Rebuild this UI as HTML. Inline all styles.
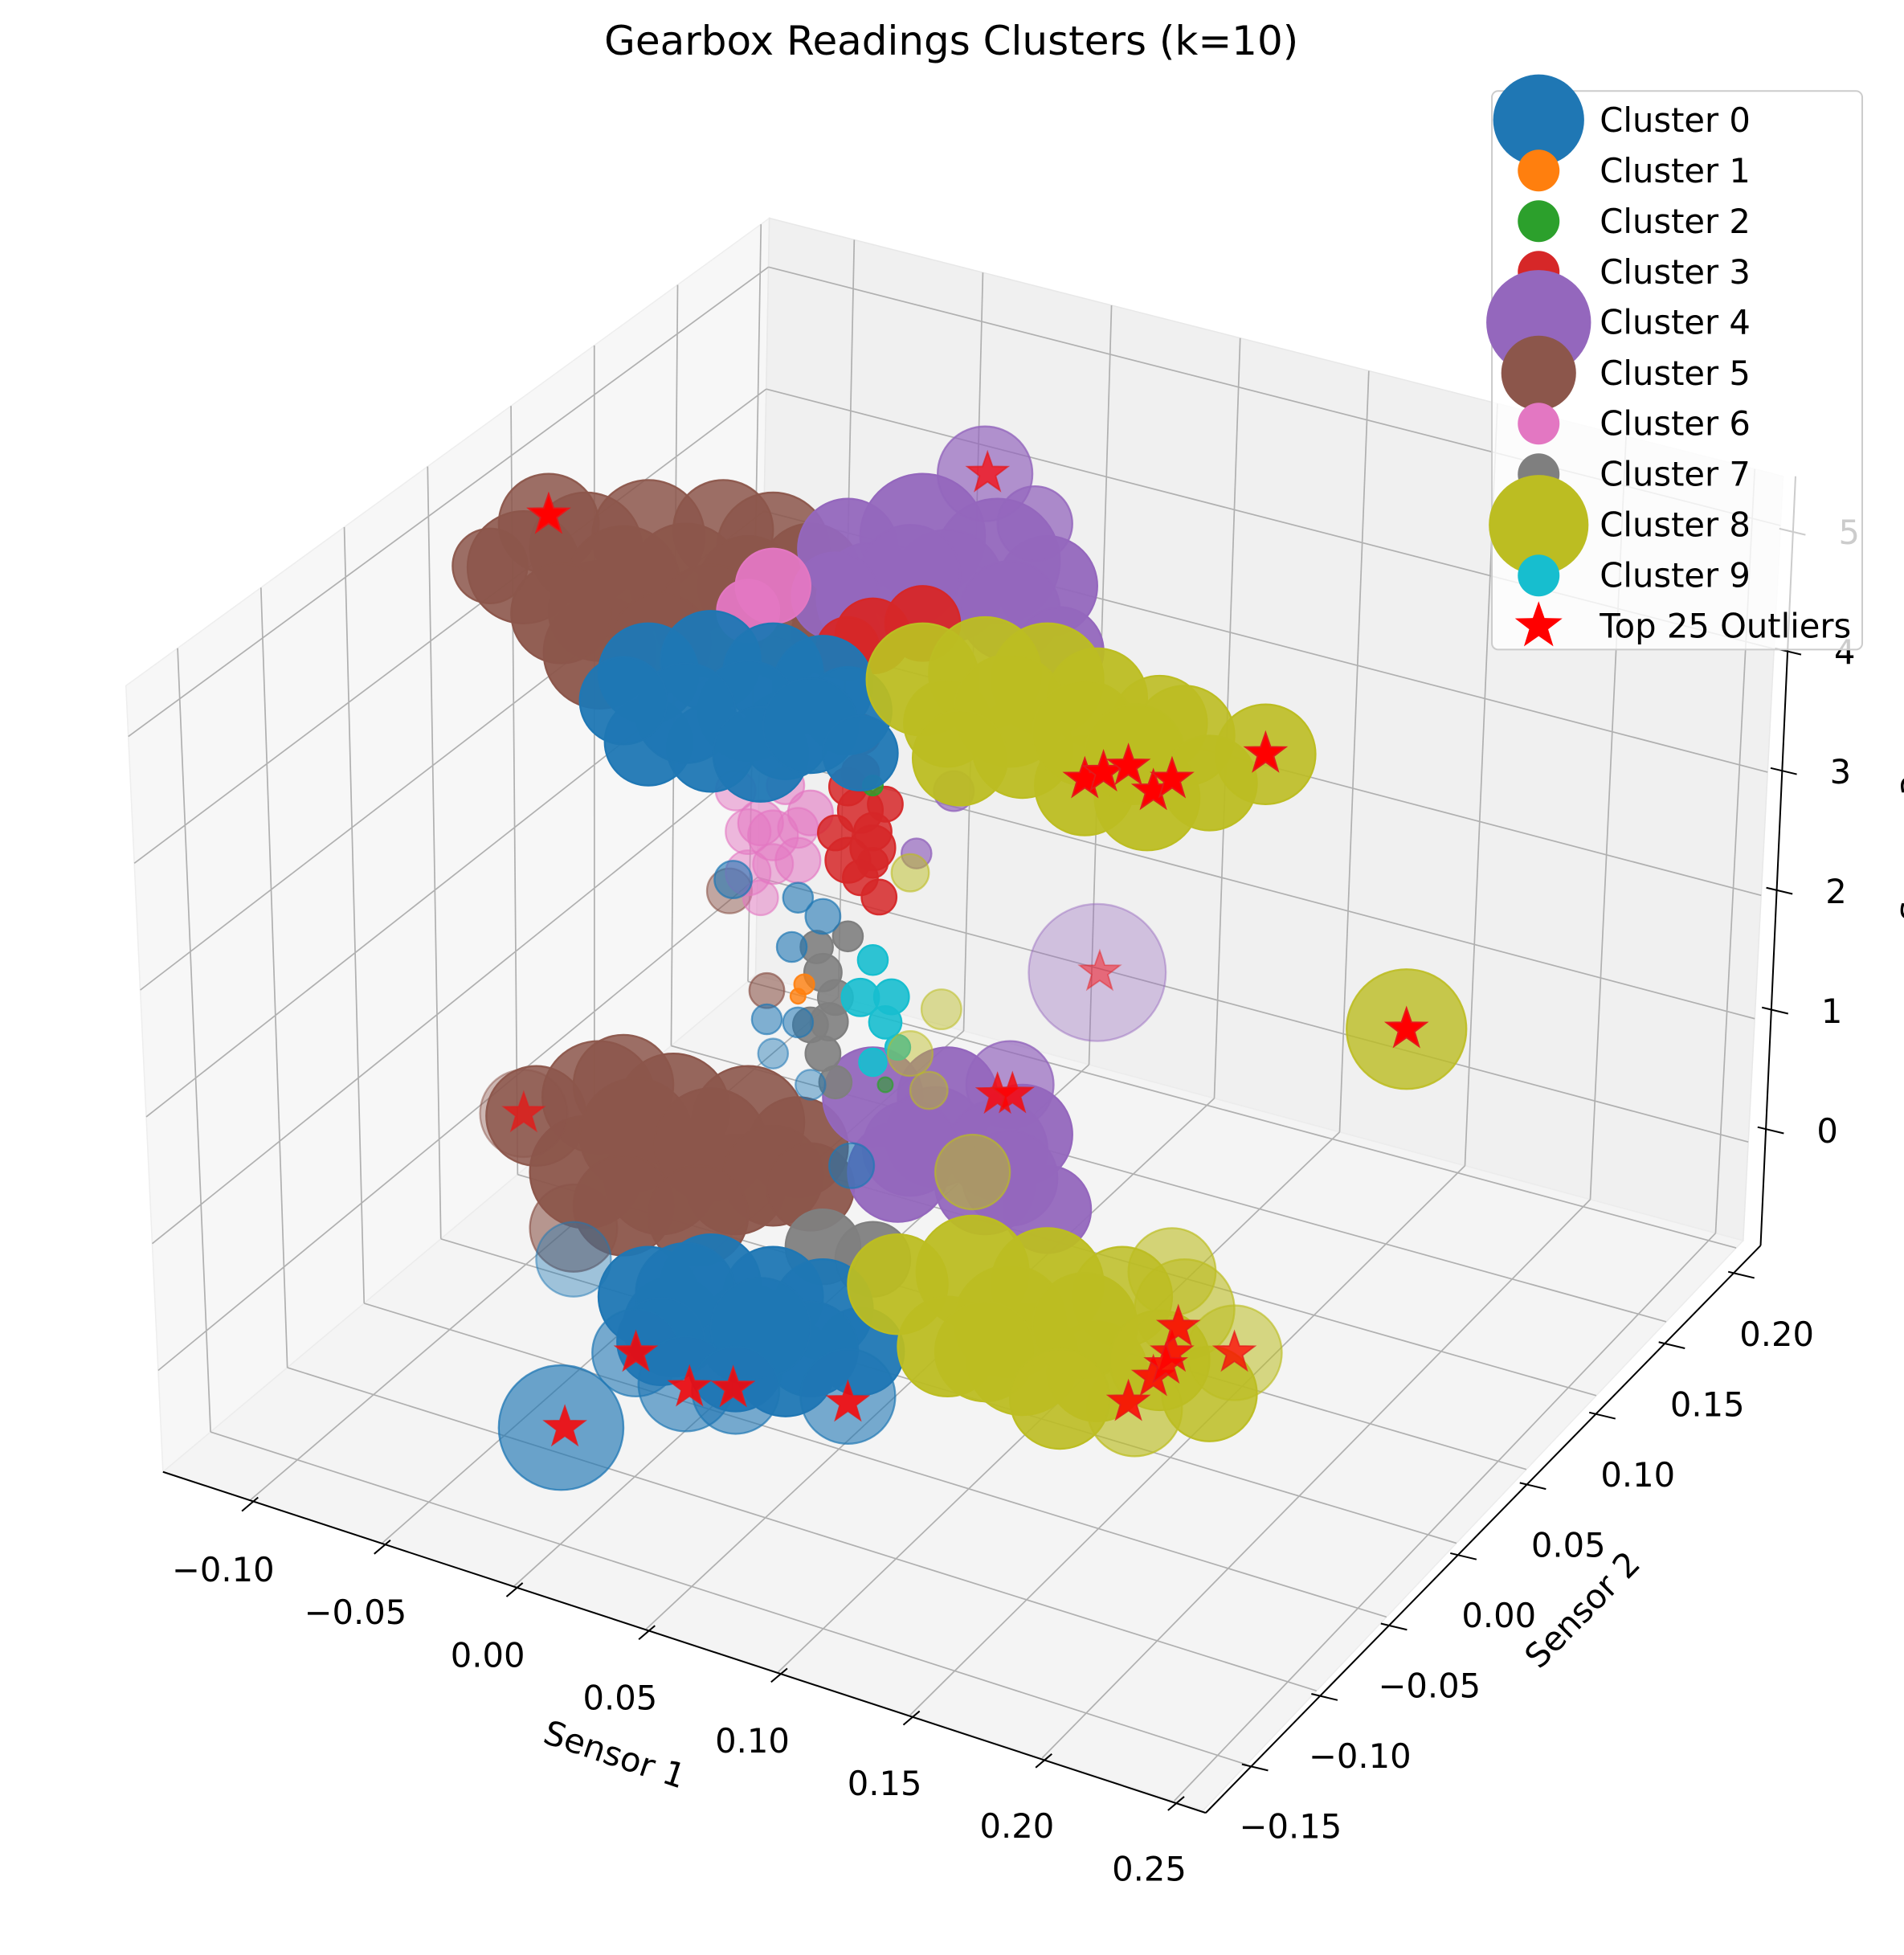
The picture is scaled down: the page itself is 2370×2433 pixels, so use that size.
<!DOCTYPE html>
<html><head><meta charset="utf-8"><title>Gearbox Readings Clusters</title>
<style>html,body{margin:0;padding:0;background:#fff}svg{display:block}text{font-family:"DejaVu Sans","Liberation Sans",sans-serif}</style>
</head><body>
<svg id="chart" xmlns="http://www.w3.org/2000/svg" width="2370" height="2433" viewBox="0 0 1527 1568" preserveAspectRatio="none">
<rect x="0" y="0" width="1527" height="1568" fill="#ffffff"/>
<g id="panes"></g>
<g id="grid"></g>
<g id="points"></g>
<g id="stars"></g>
<g id="axes"></g>
<text x="763" y="33" font-size="32.2" text-anchor="middle" dominant-baseline="central" fill="#000">Gearbox Readings Clusters (k=10)</text>
<text x="493" y="1407" font-size="26.85" text-anchor="middle" dominant-baseline="central" transform="rotate(18.5 493 1407)">Sensor 1</text>
<text x="1269" y="1291" font-size="26.85" text-anchor="middle" dominant-baseline="central" transform="rotate(-45.6 1269 1291)">Sensor 2</text>
<text x="1535" y="680" font-size="26.85" text-anchor="middle" dominant-baseline="central" transform="rotate(-90 1535 680)">Sensor 3</text>
<g id="legend"></g>
</svg>
<script>
// ---- data ----
const clusterNames = ["Cluster 0","Cluster 1","Cluster 2","Cluster 3","Cluster 4","Cluster 5","Cluster 6","Cluster 7","Cluster 8","Cluster 9"];
const clusterColors = ["#1f77b4","#ff7f0e","#2ca02c","#d62728","#9467bd","#8c564b","#e377c2","#7f7f7f","#bcbd22","#17becf"];
const drawOrder = [5,4,6,3,7,9,1,2,0,8];
// each cluster: [sensor1, sensor3, size, alpha]
const cluster0 = [[.055,5.93,40,.95],[.08,6.18,40,.95],[.105,6.23,40,.95],[.125,6.25,40,.95],[.055,5.38,35,.95],[.08,5.48,35,.95],[.11,5.76,35,.95],[.135,6.11,35,.95],[.095,5.87,40,.95],
 [.07,5.7,40,.95],[.1,5.55,38,.95],[.12,5.9,38,.95],[.14,5.8,30,.95],[.045,5.65,35,.95],
 [.089,4.48,15,.6],[.115,4.49,12,.6],[.1025,3.44,12,.55],[.115,3.49,12,.55],[.125,4.40,14,.6],[.105,3.18,12,.45],[.12,3.02,12,.45],[.1125,4.08,12,.6],[.1365,2.47,18,.6],
 [.025,1.05,30,.4],[.055,.93,40,.95],[.08,1.18,40,.95],[.105,1.23,40,.95],[.125,1.25,40,.95],[.065,.75,40,.95],[.11,.70,40,.95],[.14,1.0,35,.95],[.095,.87,40,.95],
 [.07,1.05,40,.95],[.09,.6,38,.95],[.12,.9,38,.95],[.06,.6,35,.95],[.1,.95,40,.95],
 [.05,.45,35,.6],[.07,.32,38,.6],[.09,.39,35,.6],[.135,.61,38,.6],[.02,-.33,50,.65]];
const cluster1 = [[.1175,3.81,8,.8],[.115,3.70,6,.8]];
const cluster2 = [[.145,5.57,8,.8],[.15,3.20,6,.6]];
const cluster3 = [[.145,6.77,30,.95],[.165,6.99,30,.95],[.135,6.61,25,.95],[.14,5.34,18,.85],[.135,4.91,18,.85],[.145,5.07,18,.85],[.14,5.64,15,.85],[.1475,4.69,14,.85],[.14,5.95,16,.85],
 [.135,5.5,15,.85],[.145,5.2,15,.85],[.14,4.8,14,.85],[.15,5.45,14,.85],[.13,5.1,14,.85],[.145,4.95,12,.85]];
const cluster4 = [[.135,7.41,40,.95],[.165,7.69,50,.95],[.195,7.67,50,.95],[.215,7.59,40,.95],[.145,7.07,45,.95],[.175,7.35,45,.95],[.19,8.34,38,.7],[.21,8.06,30,.75],
 [.16,7.35,40,.95],[.2,7.3,40,.95],[.22,7.1,35,.95],[.13,7.0,35,.95],
 [.1625,5.13,12,.7],[.1775,5.72,16,.7],[.235,4.61,55,.35],
 [.145,3.07,40,.95],[.175,3.25,40,.95],[.20,3.50,35,.7],[.205,3.13,40,.95],[.155,2.53,40,.95],[.19,2.64,40,.95],[.215,2.59,35,.95],
 [.17,2.9,40,.95],[.195,2.95,40,.95],[.16,2.75,38,.95],[.2,2.75,38,.95]];
const cluster5 = [[.005,6.48,45,.9],[.03,6.78,45,.85],[.055,7.03,45,.85],[.085,7.26,40,.85],[.105,7.23,45,.85],[.12,7.12,40,.95],[.035,6.31,40,.95],[.015,6.89,40,.85],[.07,6.77,45,.95],[.095,6.87,40,.95],[.0355,5.98,45,.95],[-.0085,6.41,30,.85],
 [.045,6.6,45,.95],[.08,6.5,45,.95],[.11,6.6,40,.95],[.02,6.2,40,.95],[.06,6.2,40,.95],[.13,6.7,35,.95],
 [.0875,4.38,18,.5],[.1025,3.67,14,.6],
 [.01,2.11,40,.85],[.035,2.41,45,.85],[.065,2.49,45,.9],[.095,2.57,45,.9],[.115,2.49,40,.95],[.03,1.78,45,.95],[.06,1.91,45,.95],[.09,2.04,40,.95],[.025,1.30,35,.6],[.045,2.57,40,.85],[.005,2.10,35,.4],
 [.05,2.2,45,.95],[.08,2.3,45,.95],[.105,2.2,40,.95],[.045,1.6,40,.95],[.075,1.7,40,.95],[.12,2.2,35,.95]];
const cluster6 = [[.105,6.93,30,.95],[.095,6.67,25,.95],[.105,4.93,20,.55],[.095,4.57,18,.5],[.115,4.79,18,.55],[.10,5.00,18,.55],[.11,5.36,15,.55],[.12,5.2,18,.6],
 [.095,4.9,18,.5],[.105,4.7,16,.5],[.09,5.2,16,.5],[.115,5.05,16,.5],[.1,4.4,14,.5]];
const cluster7 = [[.125,3.95,15,.9],[.1275,3.57,15,.9],[.1225,4.14,13,.9],[.13,3.78,14,.9],[.125,3.3,14,.9],[.13,3.1,13,.9],[.12,3.5,14,.9],[.135,4.3,12,.9],[.125,1.75,30,.95],[.145,1.77,30,.95]];
const cluster9 = [[.14,3.84,15,.9],[.1525,3.92,14,.9],[.145,4.17,12,.9],[.155,3.53,10,.9],[.15,3.7,13,.9],[.145,3.35,11,.9]];
const cluster8 = [[.165,6.54,45,.95],[.19,6.74,45,.95],[.215,6.84,45,.95],[.235,6.81,40,.95],[.26,6.76,38,.9],[.27,6.72,40,.9],[.205,6.23,40,.95],[.23,6.08,40,.95],[.255,6.13,42,.95],[.3025,6.765,40,.9],[.175,6.25,35,.95],
 [.2,6.5,45,.95],[.23,6.5,42,.95],[.25,6.45,40,.95],[.18,6.0,38,.95],[.28,6.4,38,.95],
 [.359,4.90,48,.8],[.16,4.96,15,.5],[.1725,3.94,16,.45],[.16,3.51,18,.45],[.1675,3.26,15,.45],
 [.155,1.63,40,.95],[.185,1.91,45,.95],[.215,1.99,45,.95],[.245,2.07,40,.85],[.27,2.12,40,.6],[.175,1.25,40,.95],[.205,1.33,45,.95],[.235,1.41,40,.95],[.25,1.20,38,.65],[.29,1.89,38,.55],[.265,2.39,35,.6],[.185,2.71,30,.55],
 [.2,1.6,45,.95],[.23,1.75,42,.95],[.26,1.65,40,.9],[.19,1.3,40,.95],[.22,1.1,40,.9],[.28,1.5,38,.85]];
const clusters = [cluster0,cluster1,cluster2,cluster3,cluster4,cluster5,cluster6,cluster7,cluster8,cluster9];
const outlierS1 = [.015,.191,.23,.2375,.2475,.2575,.265,.3025,.236,.359,.195,.201,.005,.05,.0715,.089,.135,.0215,.2475,.2575,.265,.2675,.29,.2625];
const outlierS3 = [6.96,8.35,6.13,6.23,6.34,6.20,6.34,6.77,4.62,4.90,3.39,3.43,2.10,.45,.30,.40,.56,-.32,1.24,1.50,1.74,1.96,1.89,1.63];
const outlierAlpha = [1,.7,1,1,1,1,1,1,.45,1,.8,.8,.6,.85,.85,.85,.85,.85,.85,.85,.85,.85,.75,.85];
const xTicks = [-0.10,-0.05,0.00,0.05,0.10,0.15,0.20,0.25];
const yTicks = [-0.15,-0.10,-0.05,0.00,0.05,0.10,0.15,0.20];
const zTicks = [0,1,2,3,4,5];
const legendSizes = [36.5,16.75,16.75,16.75,42,30,16.75,16.75,40,16.75];

// ---- projection / axis functions ----
const S1MIN=-0.133,S1MAX=0.261,S2MIN=-0.181,S2MAX=0.205,ZMIN=-0.8,ZMAX=5.4;
const C={"000":[130.7,1180.5],"100":[965,1452],"110":[1398,995],"010":[606,782],"001":[101,550],"011":[617,175],"111":[1430,382],"101":[947,790]};
function box(u,v,w){
  const l=(a,b,t)=>[a[0]+(b[0]-a[0])*t,a[1]+(b[1]-a[1])*t];
  const b0=l(l(C["000"],C["100"],u),l(C["010"],C["110"],u),v);
  const b1=l(l(C["001"],C["101"],u),l(C["011"],C["111"],u),v);
  return l(b0,b1,w);
}
const nu=s=>(s-S1MIN)/(S1MAX-S1MIN), nv=s=>(s-S2MIN)/(S2MAX-S2MIN), nw=z=>(z-ZMIN)/(ZMAX-ZMIN);
function proj(s1,s3){return [410+2000*s1, 1100+600*s1-100*s3];}
function xAxisPos(t){const a=[201,1206],b=[943.7,1446],f=(t+0.10)/0.35;return [a[0]+(b[0]-a[0])*f,a[1]+(b[1]-a[1])*f];}
function yAxisPos(t){const a=[1005,1417],b=[1395,1022],f=(t+0.15)/0.35;return [a[0]+(b[0]-a[0])*f,a[1]+(b[1]-a[1])*f];}
function zAxisPos(t){const a=[1419.6,906],b=[1437,426],f=t/5;return [a[0]+(b[0]-a[0])*f,a[1]+(b[1]-a[1])*f];}

const NS="http://www.w3.org/2000/svg";
function mk(tag,attrs,parent){const e=document.createElementNS(NS,tag);for(const k in attrs)e.setAttribute(k,attrs[k]);parent.appendChild(e);return e;}
const pts=a=>a.map(p=>p[0].toFixed(1)+","+p[1].toFixed(1)).join(" ");

// panes
const panes=document.getElementById("panes");
let e;
e=mk("polygon",{points:pts([box(0,0,0),box(0,1,0),box(0,1,1),box(0,0,1)]),fill:"#f7f7f7",stroke:"#eeeeee","stroke-width":1},panes);


e=mk("polygon",{points:pts([box(0,1,0),box(1,1,0),box(1,1,1),box(0,1,1)]),fill:"#f0f0f0",stroke:"#e8e8e8","stroke-width":1},panes);


e=mk("polygon",{points:pts([box(0,0,0),box(1,0,0),box(1,1,0),box(0,1,0)]),fill:"#f4f4f4",stroke:"#ececec","stroke-width":1},panes);



// grid
const grid=document.getElementById("grid");
function gl(p,q,name){const l=mk("line",{x1:p[0],y1:p[1],x2:q[0],y2:q[1],stroke:"#b0b0b0","stroke-width":1.1},grid);

}
xTicks.forEach(t=>{const u=nu(t);gl(box(u,0,0),box(u,1,0),"floor-gridline-x");gl(box(u,1,0),box(u,1,1),"back-gridline-x");});
yTicks.forEach(t=>{const v=nv(t);gl(box(0,v,0),box(1,v,0),"floor-gridline-y");gl(box(0,v,0),box(0,v,1),"left-gridline-y");});
zTicks.forEach(t=>{const w=nw(t);gl(box(0,0,w),box(0,1,w),"left-gridline-z");gl(box(0,1,w),box(1,1,w),"back-gridline-z");});

// points
const pg=document.getElementById("points");
drawOrder.forEach(ci=>{
  const g=mk("g",{},pg);
  
  
  clusters[ci].forEach(d=>{
    const p=proj(d[0],d[1]);
    const c=mk("circle",{cx:p[0].toFixed(1),cy:p[1].toFixed(1),r:d[2],fill:clusterColors[ci],"fill-opacity":d[3],stroke:clusterColors[ci],"stroke-opacity":Math.min(1,d[3]+0.1),"stroke-width":1.5},g);
    
    
  });
});

function starPath(cx,cy,R){const r=R*0.4;let s="";for(let i=0;i<10;i++){const a=-Math.PI/2+i*Math.PI/5;const rr=i%2?r:R;s+=(i?"L":"M")+(cx+rr*Math.cos(a)).toFixed(1)+","+(cy+rr*Math.sin(a)).toFixed(1);}return s+"Z";}
const sg=document.getElementById("stars");
outlierS1.forEach((s1,i)=>{
  const p=proj(s1,outlierS3[i]);
  const st=mk("path",{d:starPath(p[0],p[1],17),fill:"#ff0000","fill-opacity":outlierAlpha[i],stroke:"#e31a1c","stroke-opacity":outlierAlpha[i],"stroke-width":1.2},sg);
  
  
});

// axes
const ax=document.getElementById("axes");
function line(p,q,name,w){const l=mk("line",{x1:p[0],y1:p[1],x2:q[0],y2:q[1],stroke:"#000","stroke-width":w||1.3},ax);

}
function label(x,y,txt,name){const t=mk("text",{x:x,y:y,"font-size":26.85,"text-anchor":"middle","dominant-baseline":"central",fill:"#000"},ax);t.textContent=txt;

}
const fmt=t=>(t<0?"\u2212":"")+Math.abs(t).toFixed(2);
line([130.7,1180.5],[967,1454],"x-axis-line");
line([967,1454],[1412,999],"y-axis-line");
line([1412,999],[1440,382],"z-axis-line");
xTicks.forEach(t=>{const p=xAxisPos(t);line([p[0]+6,p[1]-5],[p[0]-7,p[1]+6],"x-tick");label(p[0]-22,p[1]+53,fmt(t),"x-tick-label");});
yTicks.forEach(t=>{const p=yAxisPos(t);line([p[0]-9,p[1]-2],[p[0]+12,p[1]+3],"y-tick");label(p[0]+30,p[1]+48,fmt(t),"y-tick-label");});
zTicks.forEach(t=>{const p=zAxisPos(t);line([p[0]-10,p[1]-2],[p[0]+11,p[1]+3],"z-tick");label(p[0]+46,p[1]+1,String(t),"z-tick-label");});

// legend
const lg=document.getElementById("legend");
const lb=mk("rect",{x:1196.5,y:73,width:297,height:448,rx:5,fill:"#ffffff","fill-opacity":0.8,stroke:"#cccccc","stroke-width":1.3},lg);


clusterNames.forEach((n,i)=>{
  const y=96.2+i*40.6;
  const g=mk("g",{},lg);
  
  
  mk("circle",{cx:1234,cy:y,r:legendSizes[i],fill:clusterColors[i]},g);
  const t=mk("text",{x:1283,y:y,"font-size":26.85,"dominant-baseline":"central",fill:"#000"},g);t.textContent=n;
});
{
  const y=96.2+10*40.6;
  const g=mk("g",{},lg);
  
  
  mk("path",{d:starPath(1234,y,20),fill:"#ff0000"},g);
  const t=mk("text",{x:1283,y:y,"font-size":26.85,"dominant-baseline":"central",fill:"#000"},g);t.textContent="Top 25 Outliers";
}
</script>
</body></html>
